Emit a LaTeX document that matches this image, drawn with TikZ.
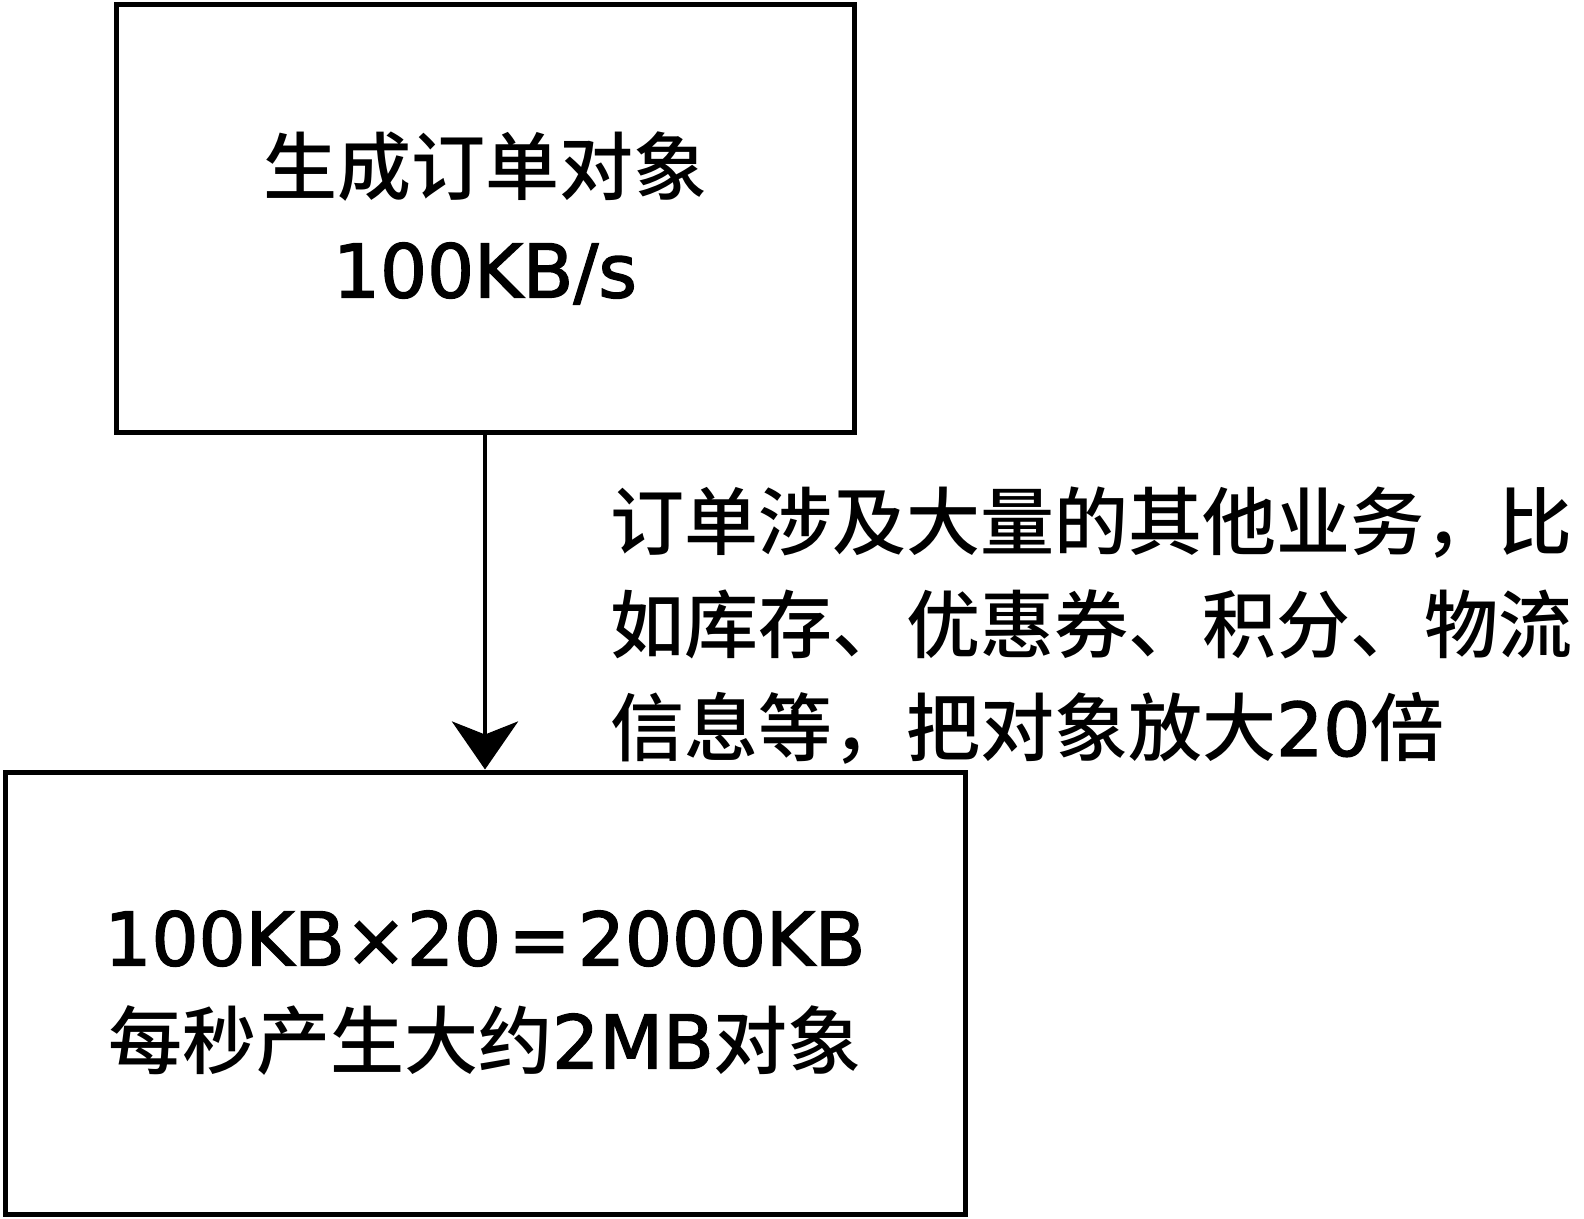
\documentclass[tikz,border=0pt]{standalone}
\usepackage{fontspec}
\setmainfont{DejaVu Sans}
\newfontfamily\cjk{Noto Sans CJK SC Medium}
\usetikzlibrary{arrows.meta}
% Latin runs set with a thin outline stroke for a medium weight
\newcommand{\heavy}[1]{\special{pdf:literal direct 2 Tr 1.4 w}#1\special{pdf:literal direct 0 Tr}}
\begin{document}
\begin{tikzpicture}[x=1pt,y=-1pt,
  box/.style={draw=black,line width=5pt,fill=white,inner sep=0pt,align=center,
    font=\fontsize{74}{103}\selectfont},
  note/.style={inner sep=0pt,align=left,font=\fontsize{74}{103}\selectfont},
  flow/.style={line width=4.5pt,-{Stealth[length=48pt,width=66pt,inset=13pt]}}]
\useasboundingbox (0,0) rectangle (1584,1218);
\fill[white] (0,0) rectangle (1584,1218);
% order object generation
\node[box,minimum width=738pt,minimum height=428pt] (gen) at (485,218)
  {{\cjk 生成订单对象}\\\heavy{100KB/s}};
% amplified object volume
\node[box,minimum width=960pt,minimum height=442pt] (amp) at (485,993)
  {\heavy{100KB×20\hspace{0.1em}=\hspace{0.1em}2000KB}\\{\cjk 每秒产生大约}\heavy{2MB}{\cjk 对象}};
\draw[flow] (gen.south) -- (amp.north);
% explanation beside the connector
\node[note,anchor=west] (why) at (610,626)
  {{\cjk 订单涉及大量的其他业务，比}\\
   {\cjk 如库存、优惠券、积分、物流}\\
   {\cjk 信息等，把对象放大}\heavy{20}{\cjk 倍}};
\end{tikzpicture}
\end{document}
